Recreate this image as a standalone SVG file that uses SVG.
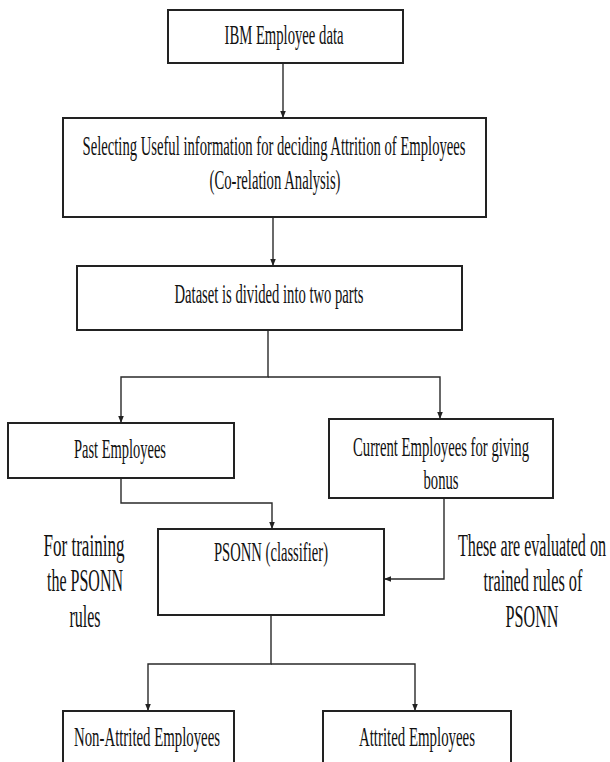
<svg xmlns="http://www.w3.org/2000/svg" width="610" height="762" viewBox="0 0 610 762">
<defs>
<marker id="ah" viewBox="0 0 10 10" refX="10" refY="5" markerWidth="7" markerHeight="8" markerUnits="userSpaceOnUse" orient="auto">
<path d="M0,1 L10,5 L0,9 z" fill="#222"/>
</marker>
<style>
.box{fill:#fff;stroke:#222;stroke-width:2}
.t{font-family:"Liberation Serif","Times New Roman",serif;font-size:27px;fill:#111;text-anchor:middle}
.a{font-family:"Liberation Serif","Times New Roman",serif;font-size:31px;fill:#111;text-anchor:middle}
.c{fill:none;stroke:#2a2a2a;stroke-width:1.4}
</style>
</defs>
<rect width="610" height="762" fill="#fff"/>
<g id="connectors">
<path class="c" d="M283,63 V118" marker-end="url(#ah)"/>
<path class="c" d="M273,217 V266" marker-end="url(#ah)"/>
<path class="c" d="M268,330 V377 H121 V423" marker-end="url(#ah)"/>
<path class="c" d="M268,377 H440 V419" marker-end="url(#ah)"/>
<path class="c" d="M121,478 V503 H272 V529" marker-end="url(#ah)"/>
<path class="c" d="M444,498 V579 H384" marker-end="url(#ah)"/>
<path class="c" d="M271,615 V664 H148 V711" marker-end="url(#ah)"/>
<path class="c" d="M271,664 H415 V711" marker-end="url(#ah)"/>
</g>
<g id="ibm">
<rect class="box" x="168" y="10" width="235" height="53"/>
<text class="t" x="284" y="44" textLength="119" lengthAdjust="spacingAndGlyphs">IBM Employee data</text>
</g>
<g id="selecting">
<rect class="box" x="63" y="118" width="423" height="99"/>
<text class="t" x="274" y="155" textLength="383" lengthAdjust="spacingAndGlyphs">Selecting Useful information for deciding Attrition of Employees</text>
<text class="t" x="275" y="189" textLength="131" lengthAdjust="spacingAndGlyphs">(Co-relation Analysis)</text>
</g>
<g id="dataset">
<rect class="box" x="77" y="266" width="385" height="64"/>
<text class="t" x="269" y="303" textLength="189" lengthAdjust="spacingAndGlyphs">Dataset is divided into two parts</text>
</g>
<g id="past">
<rect class="box" x="8" y="423" width="226" height="55"/>
<text class="t" x="120" y="458" textLength="92" lengthAdjust="spacingAndGlyphs">Past Employees</text>
</g>
<g id="current">
<rect class="box" x="329" y="419" width="224" height="79"/>
<text class="t" x="441" y="456" textLength="176" lengthAdjust="spacingAndGlyphs">Current Employees for giving</text>
<text class="t" x="441" y="489" textLength="35" lengthAdjust="spacingAndGlyphs">bonus</text>
</g>
<g id="psonn">
<rect class="box" x="158" y="529" width="226" height="86"/>
<text class="t" x="271" y="561" textLength="114" lengthAdjust="spacingAndGlyphs">PSONN (classifier)</text>
</g>
<g id="non-attrited">
<rect class="box" x="63" y="711" width="171" height="70"/>
<text class="t" x="147" y="746" textLength="146" lengthAdjust="spacingAndGlyphs">Non-Attrited Employees</text>
</g>
<g id="attrited">
<rect class="box" x="323" y="711" width="188" height="70"/>
<text class="t" x="417" y="746" textLength="116" lengthAdjust="spacingAndGlyphs">Attrited Employees</text>
</g>
<g id="note-training">
<text class="a" x="84" y="556" textLength="81" lengthAdjust="spacingAndGlyphs">For training</text>
<text class="a" x="85" y="591" textLength="76" lengthAdjust="spacingAndGlyphs">the PSONN</text>
<text class="a" x="85" y="627" textLength="31" lengthAdjust="spacingAndGlyphs">rules</text>
</g>
<g id="note-evaluated">
<text class="a" x="532" y="556" textLength="148" lengthAdjust="spacingAndGlyphs">These are evaluated on</text>
<text class="a" x="533" y="591" textLength="99" lengthAdjust="spacingAndGlyphs">trained rules of</text>
<text class="a" x="532" y="627" textLength="53" lengthAdjust="spacingAndGlyphs">PSONN</text>
</g>
</svg>
